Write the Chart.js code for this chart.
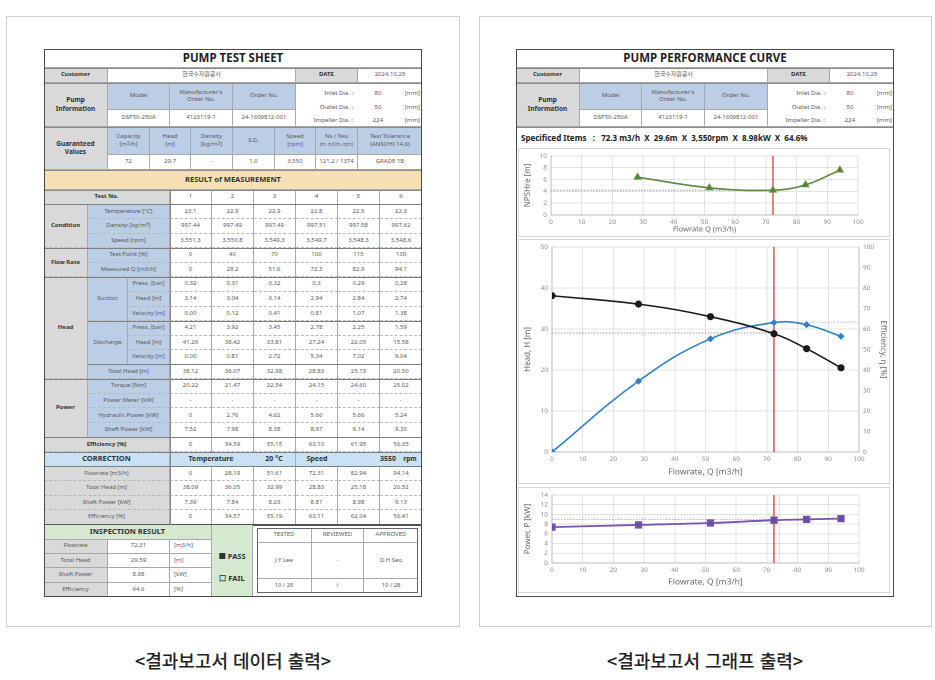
<!DOCTYPE html>
<html lang="ko"><head><meta charset="utf-8">
<script src="https://cdn.jsdelivr.net/npm/chart.js@4.4.1/dist/chart.umd.min.js"></script>
<style>
html,body{margin:0;padding:0;background:#fff;}
#page{position:relative;width:935px;height:680px;overflow:hidden;font-family:"Noto Sans","Noto Sans CJK KR",sans-serif;}
.frame{position:absolute;box-sizing:border-box;border:1px solid #cfcfcf;background:#fff;}
.c{position:absolute;box-sizing:border-box;display:flex;align-items:center;justify-content:center;text-align:center;font-size:6px;color:#5a5a5a;line-height:1.25;border-right:1px solid #a9a9a9;border-bottom:1px dashed #b8b8b8;white-space:nowrap;overflow:hidden;}
.c > span{display:block;}
.s{border-bottom-style:solid;border-bottom-color:#a9a9a9;}
.t{position:absolute;font-size:6px;color:#5a5a5a;white-space:pre;line-height:1;}
.ln{position:absolute;}
.cap{position:absolute;top:647px;font-family:"Noto Sans CJK KR","Noto Sans",sans-serif;font-size:18px;color:#222;font-weight:500;transform:translateX(-50%);white-space:nowrap;}
canvas{position:absolute;}
sup{font-size:4.5px;vertical-align:top;line-height:1;}
.panel{position:absolute;box-sizing:border-box;border:1px solid #d6d6d6;}
</style></head>
<body><div id="page"></div>
<script>
// ---------------- DATA ----------------
const customerName = '한국수자원공사';
const testDate = '2024.10.25';
const pumpInfoHeads = ['Model', "Manufacturer's<br>Order No.", 'Order No.'];
const pumpInfoValues = ['DSP50-250A', '4123119-1', '24-1609812-001'];
const diaLabels = ['Inlet Dia. :', 'Outlet Dia. :', 'Impeller Dia. :'];
const diaValues = ['80', '50', '224'];
const guaranteedHeads = ['Capacity<br>[m<sup>3</sup>/h]', 'Head<br>[m]', 'Density<br>[kg/m<sup>3</sup>]', 'S.G.', 'Speed<br>[rpm]', 'Ns / Nss<br><small style="font-size:4.5px">(m, m3/m, rpm)</small>', 'Test Tolerance<br>(ANSI/HI 14.6)'];
const guaranteedValues = ['72', '29.7', '-', '1.0', '3,550', '121.2 / 1374', 'GRADE 1B'];

const testNo = ['1', '2', '3', '4', '5', '6'];
const temperature = ['23.1', '22.9', '22.9', '22.8', '22.5', '22.3'];
const density = ['997.44', '997.49', '997.49', '997.51', '997.58', '997.62'];
const speedRpm = ['3,551.3', '3,550.8', '3,549.3', '3,549.7', '3,548.3', '3,548.6'];
const testPoint = ['0', '40', '70', '100', '115', '130'];
const measuredQ = ['0', '28.2', '51.6', '72.3', '82.9', '94.1'];
const sucPress = ['0.32', '0.31', '0.32', '0.3', '0.29', '0.28'];
const sucHead = ['3.14', '3.04', '3.14', '2.94', '2.84', '2.74'];
const sucVel = ['0.00', '0.12', '0.41', '0.81', '1.07', '1.38'];
const disPress = ['4.21', '3.92', '3.45', '2.78', '2.25', '1.59'];
const disHead = ['41.26', '38.42', '33.81', '27.24', '22.05', '15.58'];
const disVel = ['0.00', '0.81', '2.72', '5.34', '7.02', '9.04'];
const totalHead = ['38.12', '36.07', '32.98', '28.83', '25.15', '20.50'];
const torque = ['20.22', '21.47', '22.54', '24.15', '24.60', '25.02'];
const powerMeter = ['-', '-', '-', '-', '-', '-'];
const hydPower = ['0', '2.76', '4.62', '5.66', '5.66', '5.24'];
const shaftPower = ['7.52', '7.98', '8.38', '8.97', '9.14', '9.30'];
const efficiency = ['0', '34.59', '55.15', '63.10', '61.95', '56.35'];

const corrFlow = [0, 28.19, 51.61, 72.31, 82.94, 94.14];
const corrHead = [38.09, 36.05, 32.99, 28.83, 25.18, 20.52];
const corrPower = [7.39, 7.84, 8.23, 8.81, 8.98, 9.13];
const corrEff = [0, 34.57, 55.19, 63.11, 62.04, 56.41];
const corrTemp = '20 °C';
const corrSpeed = '3550';

const inspLabels = ['Flowrate', 'Total Head', 'Shaft Power', 'Efficiency'];
const inspValues = ['72.31', '29.59', '8.98', '64.6'];
const inspUnits = ['[m3/h]', '[m]', '[kW]', '[%]'];
const signHeads = ['TESTED', 'REVIEWED', 'APPROVED'];
const signNames = ['J.Y Lee', '-', 'D.H Seo'];
const signDates = ['10 / 25', '/', '10 / 28'];

const specifiedText = 'Specificed Items   :   72.3 m3/h  X  29.6m  X  3,550rpm  X  8.98kW  X  64.6%';

const npshQ = [28.2, 51.6, 72.3, 82.9, 94.1];
const npshValues = [6.4, 4.6, 4.2, 5.1, 7.6];
const specQ = 72.3;
const npshRef = 4.2;
const headRef = 29.0;
const effRef = 63.3;
const powerRef = 8.98;
const powerGuideQ = 74;

const xTickMax = 100, xTickStep = 10;
const npshMax = 10, npshStep = 2;
const headMax = 50, headStep = 10;
const effMax = 100, effStep = 10;
const powerMax = 14, powerStep = 2;

// ---------------- HTML TABLES ----------------
const page = document.getElementById('page');
const GRAY = '#d9d9d9', BLUE = '#bccde6', BEIGE = '#f7dfb5', SKY = '#c8e1f3', GREEN = '#d5e8d0';

function el(cls, css) { const d = document.createElement('div'); d.className = cls; Object.assign(d.style, css); page.appendChild(d); return d; }
function cell(x1, y1, x2, y2, html, o = {}) {
  const d = el('c' + (o.solid ? ' s' : ''), { left: x1 + 'px', top: y1 + 'px', width: (x2 - x1) + 'px', height: (y2 - y1) + 'px' });
  if (o.bg) d.style.background = o.bg;
  if (o.b) { d.style.fontWeight = '700'; d.style.color = '#333'; }
  if (o.fs) d.style.fontSize = o.fs + 'px';
  if (o.col) d.style.color = o.col;
  if (o.al) d.style.justifyContent = o.al;
  if (o.pl) d.style.paddingLeft = o.pl + 'px';
  if (o.nr) d.style.borderRight = 'none';
  if (o.nbd) d.style.borderBottom = 'none';
  if (html !== '') d.innerHTML = '<span>' + html + '</span>';
  return d;
}
function txt(x, y, s, o = {}) {
  const fs = o.fs || 6;
  const d = el('t', { top: (y - fs / 2 - 0.5) + 'px', fontSize: fs + 'px' });
  d.textContent = s;
  if (o.b) { d.style.fontWeight = '700'; d.style.color = '#333'; }
  if (o.col) d.style.color = o.col;
  if (o.anchor === 'end') d.style.right = (935 - x) + 'px';
  else if (o.anchor === 'middle') { d.style.left = x + 'px'; d.style.transform = 'translateX(-50%)'; }
  else d.style.left = x + 'px';
  return d;
}
function hl(x1, x2, y, c = '#7f7f7f', w = 1) { el('ln', { left: x1 + 'px', top: (y - w / 2) + 'px', width: (x2 - x1) + 'px', height: w + 'px', background: c }); }
function vl(x, y1, y2, c = '#7f7f7f', w = 1) { el('ln', { left: (x - w / 2) + 'px', top: y1 + 'px', width: w + 'px', height: (y2 - y1) + 'px', background: c }); }

// frames
el('frame', { left: '6px', top: '16px', width: '454px', height: '611px' });
el('frame', { left: '479px', top: '16px', width: '453px', height: '611px' });

const pcols = [108, 170, 233, 296];
function docHeader(ox, title) {
  cell(ox + 44, 49, ox + 422, 68, title, { b: 1, fs: 11.5, col: '#1f1f1f', solid: 1, nr: 1 });
  cell(ox + 44, 68, ox + 108, 83, 'Customer', { bg: GRAY, b: 1, solid: 1 });
  cell(ox + 108, 68, ox + 296, 83, customerName, { solid: 1 });
  cell(ox + 296, 68, ox + 358, 83, 'DATE', { bg: GRAY, b: 1, solid: 1 });
  cell(ox + 358, 68, ox + 422, 83, testDate, { solid: 1, nr: 1 });
  cell(ox + 44, 83, ox + 108, 127, 'Pump<br>Information', { bg: GRAY, b: 1, solid: 1, fs: 6.5 });
  pumpInfoHeads.forEach((h, i) => {
    cell(ox + pcols[i], 83, ox + pcols[i + 1], 110, h, { bg: BLUE, solid: 1 });
    cell(ox + pcols[i], 110, ox + pcols[i + 1], 127, pumpInfoValues[i], { solid: 1 });
  });
  cell(ox + 296, 83, ox + 422, 127, '', { solid: 1, nr: 1 });
  const ys = [93, 107, 120];
  diaLabels.forEach((l, i) => {
    txt(ox + 353, ys[i], l, { anchor: 'end' });
    txt(ox + 378, ys[i], diaValues[i], { anchor: 'middle' });
    txt(ox + 420, ys[i], '[mm]', { anchor: 'end' });
  });
}

// ----- LEFT DOCUMENT -----
docHeader(0, 'PUMP TEST SHEET');
cell(44, 127, 108, 170, 'Guaranteed<br>Values', { bg: GRAY, b: 1, solid: 1, fs: 6.5 });
const gcols = [108, 150, 191, 233, 275, 316, 358, 422];
guaranteedHeads.forEach((h, i) => {
  cell(gcols[i], 127, gcols[i + 1], 155, h, { bg: BLUE, solid: 1, nr: i === 6 });
  cell(gcols[i], 155, gcols[i + 1], 170, guaranteedValues[i], { solid: 1, nr: i === 6 });
});
cell(44, 170, 422, 190, 'RESULT of MEASUREMENT', { bg: BEIGE, b: 1, fs: 7.5, solid: 1, nr: 1 });

const RH = 335 / 23;
const ry = i => 190 + i * RH;
const dcols = [170, 212, 254, 296, 338, 380, 422];
function dataRow(i, vals) {
  vals.forEach((v, k) => cell(dcols[k], ry(i), dcols[k + 1], ry(i + 1), v, { nr: k === 5 }));
}
cell(44, ry(0), 170, ry(1), 'Test No.', { bg: GRAY, b: 1 });
dataRow(0, testNo);
// Condition
cell(44, ry(1), 88, ry(4), 'Condition', { bg: GRAY, b: 1 });
[['Temperature [°C]', temperature], ['Density [kg/m<sup>3</sup>]', density], ['Speed [rpm]', speedRpm]].forEach((r, k) => {
  cell(88, ry(1 + k), 170, ry(2 + k), r[0], { bg: BLUE }); dataRow(1 + k, r[1]);
});
// Flow rate
cell(44, ry(4), 88, ry(6), 'Flow Rate', { bg: GRAY, b: 1 });
[['Test Point [%]', testPoint], ['Measured Q [m3/h]', measuredQ]].forEach((r, k) => {
  cell(88, ry(4 + k), 170, ry(5 + k), r[0], { bg: BLUE }); dataRow(4 + k, r[1]);
});
// Head
cell(44, ry(6), 88, ry(13), 'Head', { bg: GRAY, b: 1 });
cell(88, ry(6), 128, ry(9), 'Suction', { bg: BLUE });
cell(88, ry(9), 128, ry(12), 'Discharge', { bg: BLUE });
[['Press. [bar]', sucPress], ['Head [m]', sucHead], ['Velocity [m]', sucVel], ['Press. [bar]', disPress], ['Head [m]', disHead], ['Velocity [m]', disVel]].forEach((r, k) => {
  cell(128, ry(6 + k), 170, ry(7 + k), r[0], { bg: BLUE }); dataRow(6 + k, r[1]);
});
cell(88, ry(12), 170, ry(13), 'Total Head [m]', { bg: BLUE }); dataRow(12, totalHead);
// Power
cell(44, ry(13), 88, ry(17), 'Power', { bg: GRAY, b: 1 });
[['Torque [Nm]', torque], ['Power Meter [kW]', powerMeter], ['Hydraulic Power [kW]', hydPower], ['Shaft Power [kW]', shaftPower]].forEach((r, k) => {
  cell(88, ry(13 + k), 170, ry(14 + k), r[0], { bg: BLUE }); dataRow(13 + k, r[1]);
});
cell(44, ry(17), 170, ry(18), 'Efficiency [%]', { bg: GRAY, b: 1 }); dataRow(17, efficiency);
// Correction
cell(44, ry(18), 170, ry(19), 'CORRECTION', { bg: SKY, b: 1, fs: 7.5 });
cell(170, ry(18), 296, ry(19), '', { bg: SKY });
cell(296, ry(18), 422, ry(19), '', { bg: SKY, nr: 1 });
const cy = (ry(18) + ry(19)) / 2;
txt(211, cy, 'Temperature', { anchor: 'middle', b: 1, fs: 7 });
txt(274, cy, corrTemp, { anchor: 'middle', b: 1, fs: 7 });
txt(317, cy, 'Speed', { anchor: 'middle', b: 1, fs: 7 });
txt(388, cy, corrSpeed, { anchor: 'middle', b: 1, fs: 7 });
txt(410, cy, 'rpm', { anchor: 'middle', b: 1, fs: 6.5 });
const fmt2 = v => v === 0 ? '0' : v.toFixed(2);
[['Flowrate [m3/h]', corrFlow], ['Total Head [m]', corrHead], ['Shaft Power [kW]', corrPower], ['Efficiency [%]', corrEff]].forEach((r, k) => {
  cell(44, ry(19 + k), 170, ry(20 + k), r[0], { bg: GRAY }); dataRow(19 + k, r[1].map(fmt2));
});
// group separators
[1, 4, 6, 13, 17, 18, 19].forEach(i => hl(44, 422, ry(i)));
hl(88, 422, ry(9)); hl(88, 422, ry(12));
hl(44, 422, 525, '#555', 1.2);
vl(170, 190, 525, '#8a8a8a', 1);
[68, 83, 127, 170, 190].forEach(y => hl(44, 422, y, '#8a8a8a'));

// Inspection
const iy0 = 525, iy1 = 539.5, ih = (597 - iy1) / 4;
cell(44, iy0, 212, iy1, 'INSPECTION RESULT', { bg: GREEN, b: 1, fs: 7.5, solid: 1 });
inspLabels.forEach((l, k) => {
  const a = iy1 + k * ih, b = a + ih;
  cell(44, a, 108, b, l, { bg: GRAY, solid: 1 });
  cell(108, a, 170, b, inspValues[k], { solid: 1 });
  cell(170, a, 212, b, inspUnits[k], { solid: 1, al: 'flex-start', pl: 4 });
});
cell(212, iy0, 253, 597, '', { bg: GREEN, solid: 1 });
txt(232, 557, '■ PASS', { anchor: 'middle', b: 1, fs: 7.5 });
txt(232, 579, '☐ FAIL', { anchor: 'middle', b: 1, fs: 7.5 });
const scols = [257, 312, 364, 418];
const srows = [528, 542.5, 579, 593];
signHeads.forEach((h, k) => {
  cell(scols[k], srows[0], scols[k + 1], srows[1], h, { solid: 1, nr: k === 2 });
  cell(scols[k], srows[1], scols[k + 1], srows[2], signNames[k], { solid: 1, nr: k === 2 });
  cell(scols[k], srows[2], scols[k + 1], srows[3], signDates[k], { solid: 1, nr: k === 2, nbd: 1 });
});
el('ln', { left: '257px', top: '528px', width: '161px', height: '65px', border: '1px solid #666', boxSizing: 'border-box' });
// outer border left
el('ln', { left: '44px', top: '49px', width: '378px', height: '548px', border: '1.5px solid #4a4a4a', boxSizing: 'border-box' });

// ----- RIGHT DOCUMENT -----
const OX = 472;
docHeader(OX, 'PUMP PERFORMANCE CURVE');
hl(516, 894, 68, '#8a8a8a'); hl(516, 894, 83, '#8a8a8a'); hl(516, 894, 127, '#8a8a8a');
txt(521, 138, specifiedText, { b: 1, fs: 8, col: '#222' });
el('panel', { left: '518px', top: '148px', width: '372px', height: '89px' });
el('panel', { left: '518px', top: '239px', width: '372px', height: '245px' });
el('panel', { left: '518px', top: '487px', width: '372px', height: '106px' });
el('ln', { left: '516px', top: '49px', width: '378px', height: '548px', border: '1.5px solid #4a4a4a', boxSizing: 'border-box' });

// captions
el('cap', { left: '233px' }).textContent = '<결과보고서 데이터 출력>';
el('cap', { left: '705px' }).textContent = '<결과보고서 그래프 출력>';

// ---------------- CHARTS ----------------
function mkCanvas(x, y, w, h) {
  const c = document.createElement('canvas'); c.width = w; c.height = h;
  c.style.cssText = `left:${x}px;top:${y}px;width:${w}px;height:${h}px`;
  page.appendChild(c); return c;
}
const tickFont = { family: 'Noto Sans', size: 6.5 };
const titleFont = { family: 'Noto Sans', size: 8 };
const TICK = '#8c8c8c', GRID = '#e3e3e3', AX = '#bdbdbd';
function xScale(title, height, pb, tsize) {
  return {
    type: 'linear', min: 0, max: xTickMax,
    ticks: { stepSize: xTickStep, color: TICK, font: tickFont, padding: 3, maxRotation: 0, autoSkip: false },
    grid: { color: GRID, drawTicks: false }, border: { color: AX },
    title: { display: true, text: title, color: '#666', font: { family: 'Noto Sans', size: tsize || 8 }, padding: { top: 0, bottom: pb } },
    afterFit: s => { s.height = height; }
  };
}
function yScale(title, max, step, width, pos, grid) {
  return {
    type: 'linear', position: pos || 'left', min: 0, max: max,
    ticks: { stepSize: step, color: TICK, font: tickFont, padding: 4, autoSkip: false },
    grid: { color: GRID, drawTicks: false, display: grid !== false }, border: { color: AX },
    title: { display: true, text: title, color: '#666', font: titleFont, padding: { top: pos === 'right' ? 2 : 5, bottom: 0 } },
    afterFit: s => { s.width = width; }
  };
}
const pts = (xs, ys) => xs.map((x, i) => ({ x: x, y: ys[i] }));
const baseOpts = (pad, scales) => ({
  responsive: false, animation: false, devicePixelRatio: 2,
  plugins: { legend: { display: false }, tooltip: { enabled: false } },
  layout: { padding: pad }, scales: scales
});
const RED = '#d42a2a';

// NPSH chart
new Chart(mkCanvas(518, 148, 372, 89), {
  type: 'scatter',
  data: { datasets: [
    { data: pts(npshQ, npshValues), showLine: true, tension: 0.4, borderColor: '#5a8a3c', backgroundColor: '#4f7f33', borderWidth: 1.6, pointStyle: 'triangle', pointRadius: 3.2 },
    { data: [{ x: 0, y: npshRef }, { x: specQ, y: npshRef }], showLine: true, borderColor: '#8f8f8f', borderWidth: 0.8, borderDash: [1.5, 1.5], pointRadius: 0 },
    { data: [{ x: specQ, y: 0 }, { x: specQ, y: npshMax }], showLine: true, borderColor: RED, borderWidth: 1.2, pointRadius: 0 }
  ] },
  options: baseOpts({ top: 6, right: 32, left: 0, bottom: 0 }, {
    x: xScale('Flowrate Q (m3/h)', 22, 3, 7.5),
    y: yScale('NPSHre [m]', npshMax, npshStep, 33)
  })
});

// Head & Efficiency chart
new Chart(mkCanvas(518, 239, 372, 245), {
  type: 'scatter',
  data: { datasets: [
    { data: pts(corrFlow, corrHead), yAxisID: 'y', showLine: true, tension: 0.4, borderColor: '#1c1c1c', backgroundColor: '#1c1c1c', borderWidth: 1.6, pointStyle: 'circle', pointRadius: 2.8 },
    { data: pts(corrFlow, corrEff), yAxisID: 'y2', showLine: true, tension: 0.4, borderColor: '#2f80c8', backgroundColor: '#2f80c8', borderWidth: 1.6, pointStyle: 'rectRot', pointRadius: 2.4 },
    { data: [{ x: 0, y: headRef }, { x: specQ, y: headRef }], yAxisID: 'y', showLine: true, borderColor: '#8f8f8f', borderWidth: 0.8, borderDash: [1.5, 1.5], pointRadius: 0 },
    { data: [{ x: specQ, y: effRef }, { x: xTickMax, y: effRef }], yAxisID: 'y2', showLine: true, borderColor: '#8fb9e3', borderWidth: 0.8, borderDash: [1.5, 1.5], pointRadius: 0 },
    { data: [{ x: specQ, y: 0 }, { x: specQ, y: headMax }], yAxisID: 'y', showLine: true, borderColor: RED, borderWidth: 1.2, pointRadius: 0 }
  ] },
  options: baseOpts({ top: 7, right: 0, left: 0, bottom: 0 }, {
    x: xScale('Flowrate, Q [m3/h]', 32, 7, 8.5),
    y: yScale('Head, H [m]', headMax, headStep, 34),
    y2: yScale('Efficiency, η [%]', effMax, effStep, 31, 'right', false)
  })
});

// Power chart
new Chart(mkCanvas(518, 487, 372, 106), {
  type: 'scatter',
  data: { datasets: [
    { data: pts(corrFlow, corrPower), showLine: true, tension: 0.4, borderColor: '#7355aa', backgroundColor: '#6a4ba3', borderWidth: 1.8, pointStyle: 'rect', pointRadius: 3.9 },
    { data: [{ x: 0, y: powerRef }, { x: specQ, y: powerRef }], showLine: true, borderColor: '#a58fd0', borderWidth: 0.8, borderDash: [1.5, 1.5], pointRadius: 0 },
    { data: [{ x: powerGuideQ, y: 0 }, { x: powerGuideQ, y: powerMax }], showLine: true, borderColor: '#d8d8e4', borderWidth: 1, pointRadius: 0 },
    { data: [{ x: specQ, y: 0 }, { x: specQ, y: powerMax }], showLine: true, borderColor: RED, borderWidth: 1.2, pointRadius: 0 }
  ] },
  options: baseOpts({ top: 8, right: 31, left: 0, bottom: 0 }, {
    x: xScale('Flowrate, Q [m3/h]', 30, 6, 8.5),
    y: yScale('Power, P [kW]', powerMax, powerStep, 34)
  })
});
</script>
</body></html>
